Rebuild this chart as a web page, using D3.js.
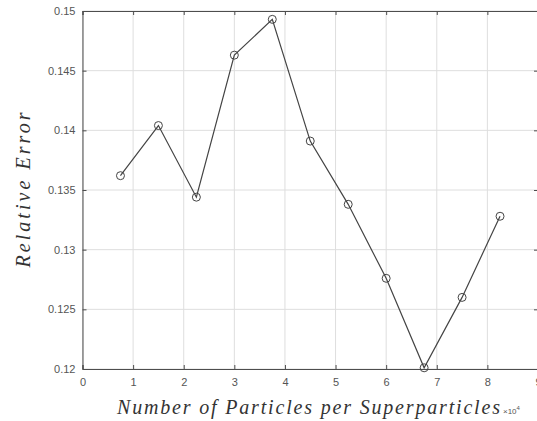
<!DOCTYPE html>
<html>
<head>
<meta charset="utf-8">
<script src="https://cdn.jsdelivr.net/npm/d3@7"></script>
<style>
  body { margin: 0; background: #fff; }
  svg { display: block; }
</style>
</head>
<body>
<div id="chart"></div>
<script>
// particles per superparticle (x10^4) and relative error
const particles = [0.75, 1.5, 2.25, 3, 3.75, 4.5, 5.25, 6, 6.75, 7.5, 8.25];
const relError = [0.1362, 0.1404, 0.1344, 0.1463, 0.1493, 0.1391, 0.1338, 0.1276, 0.1201, 0.1260, 0.1328];
const xTicks = [0, 1, 2, 3, 4, 5, 6, 7, 8, 9];
const yTicks = [0.12, 0.125, 0.13, 0.135, 0.14, 0.145, 0.15];

const width = 537, height = 421;
const margin = { left: 82.5, right: -1, top: 11, bottom: 52 };

const svg = d3.select('#chart').append('svg')
    .attr('width', width)
    .attr('height', height);

const x = d3.scaleLinear().domain([0, 9]).range([margin.left, width - margin.right]);
const y = d3.scaleLinear().domain([0.12, 0.15]).range([height - margin.bottom, margin.top]);

// grid
svg.append('g')
    .selectAll('line')
    .data(xTicks)
    .join('line')
    .attr('x1', d => x(d)).attr('x2', d => x(d))
    .attr('y1', y(0.12)).attr('y2', y(0.15))
    .attr('stroke', '#dedede')
    .attr('stroke-width', 1);

svg.append('g')
    .selectAll('line')
    .data(yTicks)
    .join('line')
    .attr('x1', x(0)).attr('x2', x(9))
    .attr('y1', d => y(d)).attr('y2', d => y(d))
    .attr('stroke', '#dedede')
    .attr('stroke-width', 1);

// axes, MATLAB style with inward ticks
const fmtY = d => d3.format('.3~f')(d);

const xAxis = svg.append('g')
    .attr('transform', `translate(0,${y(0.12)})`)
    .call(d3.axisBottom(x).tickValues(xTicks).tickSize(-4).tickPadding(9).tickFormat(d3.format('d')));

const xAxisTop = svg.append('g')
    .attr('transform', `translate(0,${y(0.15)})`)
    .call(d3.axisTop(x).tickValues(xTicks).tickSize(-4).tickFormat(''));

const yAxis = svg.append('g')
    .attr('transform', `translate(${x(0)},0)`)
    .call(d3.axisLeft(y).tickValues(yTicks).tickSize(-4).tickPadding(7).tickFormat(fmtY));

const yAxisRight = svg.append('g')
    .attr('transform', `translate(${x(9)},0)`)
    .call(d3.axisRight(y).tickValues(yTicks).tickSize(-4).tickFormat(''));

[xAxis, xAxisTop, yAxis, yAxisRight].forEach(a => {
    a.select('.domain').attr('stroke', '#4d4d4d').attr('stroke-width', 1);
    a.selectAll('.tick line').attr('stroke', '#4d4d4d');
    a.selectAll('text')
        .attr('fill', '#555')
        .style('font-family', 'Liberation Sans, Arial, sans-serif')
        .style('font-size', '11px');
});

// data line and circle markers
const line = d3.line()
    .x((d, i) => x(particles[i]))
    .y(d => y(d));

svg.append('path')
    .datum(relError)
    .attr('fill', 'none')
    .attr('stroke', '#444')
    .attr('stroke-width', 1.2)
    .attr('d', line);

svg.append('g')
    .selectAll('circle')
    .data(relError)
    .join('circle')
    .attr('cx', (d, i) => x(particles[i]))
    .attr('cy', d => y(d))
    .attr('r', 4)
    .attr('fill', 'none')
    .attr('stroke', '#444')
    .attr('stroke-width', 1);

// labels
svg.append('text')
    .attr('x', 117)
    .attr('y', 414)
    .attr('textLength', 383)
    .attr('lengthAdjust', 'spacing')
    .attr('fill', '#333')
    .style('font-family', 'Liberation Serif, Times New Roman, serif')
    .style('font-style', 'italic')
    .style('font-size', '20px')
    .text('Number of Particles per Superparticles');

const expo = svg.append('text')
    .attr('x', 503)
    .attr('y', 414)
    .attr('fill', '#555')
    .style('font-family', 'Liberation Sans, Arial, sans-serif')
    .style('font-size', '8px');
expo.append('tspan').text('\u00d710');
expo.append('tspan').attr('dy', -4).style('font-size', '6px').text('4');

svg.append('text')
    .attr('transform', `translate(30,${(y(0.12) + y(0.15)) / 2}) rotate(-90)`)
    .attr('text-anchor', 'middle')
    .attr('textLength', 155)
    .attr('lengthAdjust', 'spacing')
    .attr('fill', '#333')
    .style('font-family', 'Liberation Serif, Times New Roman, serif')
    .style('font-style', 'italic')
    .style('font-size', '20px')
    .text('Relative Error');
</script>
</body>
</html>
